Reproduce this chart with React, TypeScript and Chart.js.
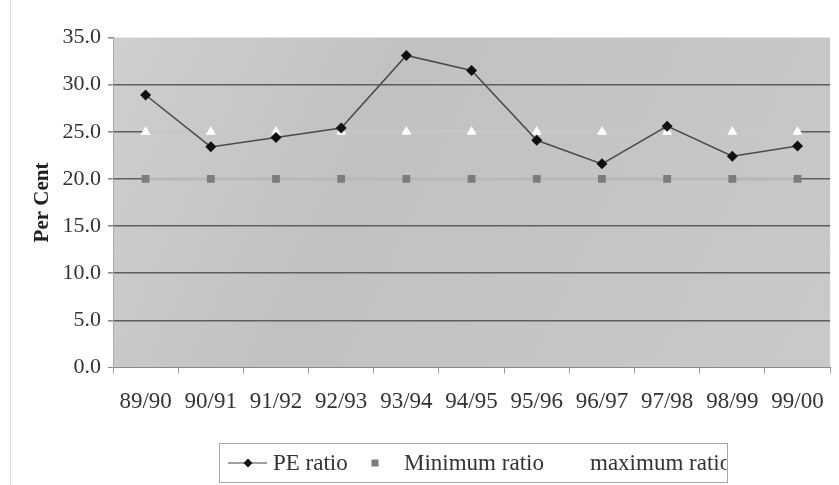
import React, { useEffect, useRef } from "react";
import { Chart, registerables } from "chart.js";

Chart.register(...registerables);

const categories = ["89/90", "90/91", "91/92", "92/93", "93/94", "94/95", "95/96", "96/97", "97/98", "98/99", "99/00"];
const peRatio = [28.9, 23.4, 24.4, 25.4, 33.1, 31.5, 24.1, 21.6, 25.6, 22.4, 23.5];
const minimumRatio = [20, 20, 20, 20, 20, 20, 20, 20, 20, 20, 20];
const maximumRatio = [25, 25, 25, 25, 25, 25, 25, 25, 25, 25, 25];
const seriesNames = ["PE ratio", "Minimum ratio", "maximum ratio"];
const yTitle = "Per Cent";

const FONT = "'Liberation Serif', 'Times New Roman', Times, serif";

const bgPlugin = {
  id: "bgPlugin",
  beforeDraw(chart: any) {
    const { ctx, chartArea: a } = chart;
    ctx.save();
    ctx.strokeStyle = "#dcdcdc";
    ctx.lineWidth = 1;
    ctx.beginPath();
    ctx.moveTo(10.5, 0);
    ctx.lineTo(10.5, chart.height);
    ctx.stroke();
    const g = ctx.createLinearGradient(a.left, a.top, a.right, a.bottom);
    g.addColorStop(0, "#cfcfcf");
    g.addColorStop(0.35, "#c1c1c1");
    g.addColorStop(0.6, "#c4c4c4");
    g.addColorStop(1, "#c9c9c9");
    ctx.fillStyle = g;
    ctx.fillRect(a.left, a.top, a.right - a.left, a.bottom - a.top);
    ctx.restore();
  },
};

const legendPlugin = {
  id: "legendPlugin",
  afterDraw(chart: any) {
    const { ctx } = chart;
    const ds = chart.data.datasets;
    const bx = 219.5, by = 443.5, bw = 508, bh = 39;
    const cy = 463;
    ctx.save();
    ctx.strokeStyle = "#a8a8a8";
    ctx.lineWidth = 1;
    ctx.strokeRect(bx, by, bw, bh);
    ctx.beginPath();
    ctx.rect(bx + 1, by + 1, bw - 2, bh - 2);
    ctx.clip();
    ctx.font = `23px ${FONT}`;
    ctx.textBaseline = "middle";
    ctx.textAlign = "left";
    // PE ratio marker: line with diamond
    ctx.strokeStyle = "#444";
    ctx.lineWidth = 1.2;
    ctx.beginPath();
    ctx.moveTo(228, cy);
    ctx.lineTo(267, cy);
    ctx.stroke();
    ctx.fillStyle = "#111";
    ctx.beginPath();
    ctx.moveTo(248, cy - 4.5);
    ctx.lineTo(252.5, cy);
    ctx.lineTo(248, cy + 4.5);
    ctx.lineTo(243.5, cy);
    ctx.closePath();
    ctx.fill();
    ctx.fillStyle = "#333";
    ctx.fillText(ds[0].label, 273, cy + 1);
    // minimum marker: grey square
    ctx.fillStyle = "#7c7c7c";
    ctx.fillRect(371.5, cy - 3.5, 7, 7);
    ctx.fillStyle = "#333";
    ctx.fillText(ds[1].label, 404, cy + 1);
    // maximum marker: white triangle
    ctx.fillStyle = "#ffffff";
    ctx.beginPath();
    ctx.moveTo(565, cy - 4);
    ctx.lineTo(569, cy + 3);
    ctx.lineTo(561, cy + 3);
    ctx.closePath();
    ctx.fill();
    ctx.fillStyle = "#333";
    ctx.fillText(ds[2].label, 590, cy + 1);
    ctx.restore();
  },
};

export default function App() {
  const ref = useRef<HTMLCanvasElement | null>(null);
  useEffect(() => {
    if (!ref.current) return;
    const chart = new Chart(ref.current, {
      type: "line",
      data: {
        labels: categories,
        datasets: [
          {
            label: seriesNames[0],
            data: peRatio,
            borderColor: "#4a4a4a",
            borderWidth: 1.5,
            pointStyle: "rectRot",
            pointRadius: 5.5,
            pointBackgroundColor: "#111111",
            pointBorderColor: "#111111",
            pointBorderWidth: 0,
            order: 1,
          },
          {
            label: seriesNames[1],
            data: minimumRatio,
            borderColor: "#b8b8b8",
            borderWidth: 3,
            pointStyle: "rect",
            pointRadius: 5.5,
            pointBackgroundColor: "#7c7c7c",
            pointBorderColor: "#7c7c7c",
            pointBorderWidth: 0,
            order: 2,
          },
          {
            label: seriesNames[2],
            data: maximumRatio,
            borderColor: "#c7c7c7",
            borderWidth: 3,
            pointStyle: "triangle",
            pointRadius: 5,
            pointBackgroundColor: "#ffffff",
            pointBorderColor: "#ffffff",
            pointBorderWidth: 1,
            order: 3,
          },
        ] as any,
      },
      options: {
        animation: false,
        responsive: false,
        maintainAspectRatio: false,
        layout: { padding: { left: 0, right: 4, top: 37.5, bottom: 0 } },
        plugins: {
          legend: { display: false },
          tooltip: { enabled: false },
        },
        scales: {
          x: {
            offset: true,
            afterFit: (s: any) => {
              s.height = 117.5;
            },
            grid: {
              display: true,
              drawOnChartArea: false,
              drawTicks: true,
              tickLength: 6,
              tickColor: "#9a9a9a",
              offset: true,
            },
            border: { color: "#8a8a8a", width: 1 },
            ticks: {
              color: "#333",
              padding: 15,
              maxRotation: 0,
              autoSkip: false,
              font: { family: FONT, size: 23 },
            },
          },
          y: {
            min: 0,
            max: 35,
            afterFit: (s: any) => {
              s.width = 113;
            },
            ticks: {
              stepSize: 5,
              color: "#333",
              padding: 7,
              font: { family: FONT, size: 22 },
              callback: (v: any) => Number(v).toFixed(1),
            },
            grid: {
              color: (c: any) => {
                const v = c.tick ? c.tick.value : 0;
                if (v === 35) return "rgba(0,0,0,0)";
                if (v === 0) return "#8a8a8a";
                return "#5e5e5e";
              },
              lineWidth: (c: any) => (c.tick && c.tick.value === 0 ? 1 : 1.6),
              tickLength: 5,
              tickColor: "#8a8a8a",
              drawTicks: true,
            },
            border: { color: "#a8a8a8", width: 1 },
            title: {
              display: true,
              text: yTitle,
              color: "#222",
              padding: { top: 30, bottom: 0 },
              font: { family: FONT, size: 21, weight: "bold" },
            },
          },
        },
      },
      plugins: [bgPlugin, legendPlugin],
    });
    return () => chart.destroy();
  }, []);
  return (
    <div style={{ position: "absolute", left: 0, top: 0, width: 839, height: 485, background: "#fff" }}>
      <canvas ref={ref} width={839} height={485} style={{ display: "block", width: 839, height: 485 }} />
    </div>
  );
}
